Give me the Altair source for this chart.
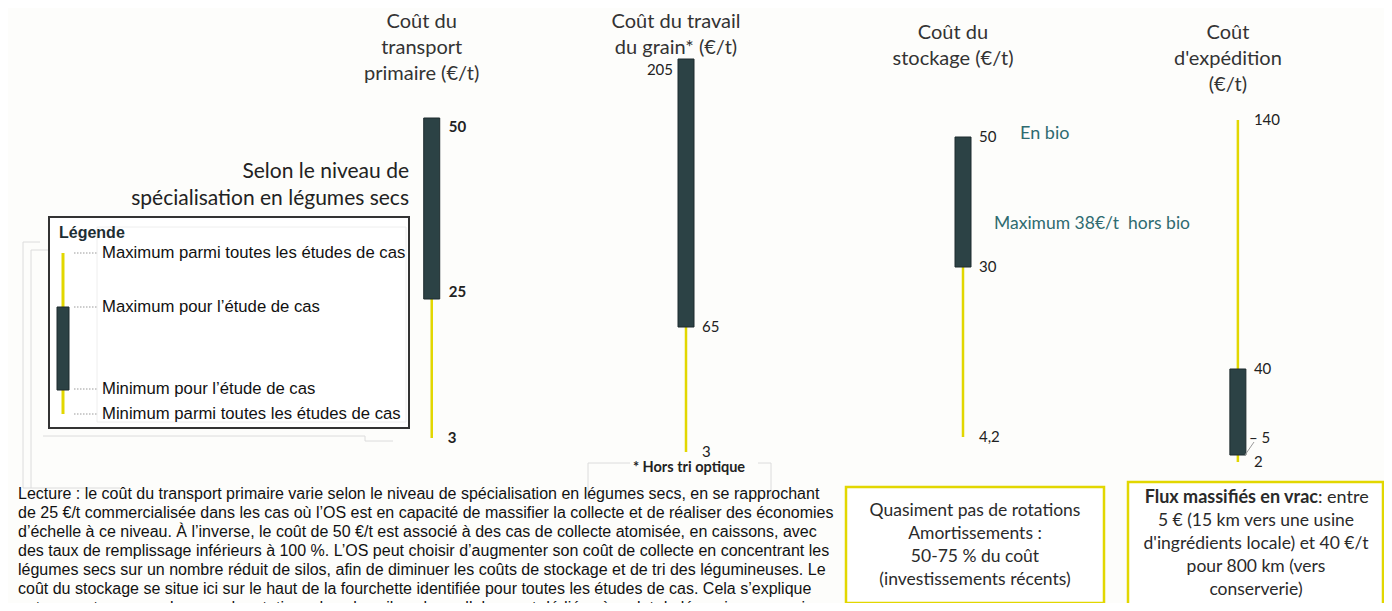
import altair as alt
import pandas as pd

# ---------------- data ----------------
categories = ["transport", "grain", "stockage", "expedition"]
min_all = [3, 3, 4.2, 2]
min_case = [25, 65, 30, 5]
max_case = [50, 205, 50, 40]
max_all = [50, 205, 50, 140]
titles = [
    "Coût du\ntransport\nprimaire (€/t)",
    "Coût du travail\ndu grain* (€/t)",
    "Coût du\nstockage (€/t)",
    "Coût\nd'expédition\n(€/t)",
]
tick_values = [[50, 25, 3], [205, 65, 3], [50, 30, 4.2], [140, 40, 5, 2]]
tick_texts = [["50", "25", "3"], ["205", "65", "3"], ["50", "30", "4,2"], ["140", "40", "– 5", "2"]]

legend_title = "Légende"
legend_labels = [
    "Maximum parmi toutes les études de cas",
    "Maximum pour l’étude de cas",
    "Minimum pour l’étude de cas",
    "Minimum parmi toutes les études de cas",
]
side_note = "Selon le niveau de\nspécialisation en légumes secs"
grain_note = "* Hors tri optique"
bio_note = "En bio"
hors_bio_note = "Maximum 38€/t\u00a0 hors bio"
box1_lines = ["Quasiment pas de rotations", "Amortissements :", "50-75 % du coût", "(investissements récents)"]
box2_bold = "Flux massifiés en vrac"
box2_lines = ["\u00a0: entre", "5 € (15 km vers une usine", "d'ingrédients locale) et 40 €/t", "pour 800 km (vers", "conserverie)"]
reading_lines = [
    "Lecture : le coût du transport primaire varie selon le niveau de spécialisation en légumes secs, en se rapprochant",
    "de 25 €/t commercialisée dans les cas où l’OS est en capacité de massifier la collecte et de réaliser des économies",
    "d’échelle à ce niveau. À l’inverse, le coût de 50 €/t est associé à des cas de collecte atomisée, en caissons, avec",
    "des taux de remplissage inférieurs à 100 %. L’OS peut choisir d’augmenter son coût de collecte en concentrant les",
    "légumes secs sur un nombre réduit de silos, afin de diminuer les coûts de stockage et de tri des légumineuses. Le",
    "coût du stockage se situe ici sur le haut de la fourchette identifiée pour toutes les études de cas. Cela s’explique",
    "notamment par une absence de rotations dans les silos ; les cellules sont dédiées à un lot de légumineuses qui",
]

# ---------------- layout / style ----------------
W, H = 1376, 595
OFF = 8


def px(v):
    return v - OFF


DARK = "#2c4245"
DARK_EDGE = "#1d2b2e"
YELLOW = "#e2d700"
TEAL = "#2f6b70"
CAL = "Lato"
ARIAL = "Liberation Sans"

X_RANGE = [px(427), px(686), px(963), px(1243)]
Y_RANGES = [
    [px(438), px(299), px(118)],
    [px(452), px(327), px(59)],
    [px(437), px(267), px(137)],
    [px(462), px(455), px(369), px(120)],
]
TITLE_TOP = [px(12), px(12), px(23), px(23)]
LABEL_STYLE = {
    (0, 0): dict(dx=17, dy=9, align="left"),
    (0, 1): dict(dx=17, dy=-7, align="left"),
    (1, 0): dict(dx=-13, dy=11, align="right"),
    (3, 2): dict(dx=11, dy=-17, align="left"),
}

one = pd.DataFrame({"k": [0]})
xscale = alt.Scale(domain=list(range(len(categories))), range=X_RANGE, nice=False, zero=False)
xenc = alt.X("col:Q", scale=xscale, axis=None)

layers = []


def rect(x1, x2, y1, y2, **kw):
    return alt.Chart(one).mark_rect(**kw).encode(
        x=alt.value(px(x1)), x2=alt.value(px(x2)), y=alt.value(px(y1)), y2=alt.value(px(y2))
    )


def line(x1, y1, x2, y2, **kw):
    return alt.Chart(one).mark_rule(**kw).encode(
        x=alt.value(px(x1)), x2=alt.value(px(x2)), y=alt.value(px(y1)), y2=alt.value(px(y2))
    )


def text(t, x, y, **kw):
    return alt.Chart(pd.DataFrame({"t": [t]})).mark_text(**kw).encode(
        text="t:N", x=alt.value(px(x)), y=alt.value(px(y))
    )


# faint scan artefacts
FAINT = "#dcdcdc"
for a in [
    (23, 242, 23, 488), (31, 250, 31, 488), (23, 242, 40, 242), (31, 250, 49, 250),
    (43, 436, 365, 436), (365, 436, 365, 441), (365, 441, 393, 441),
    (588, 463, 630, 463), (758, 463, 771, 463), (588, 463, 588, 500), (771, 463, 771, 500),
    (23, 488, 120, 488),
]:
    layers.append(line(*a, color=FAINT, strokeWidth=1))

# legend box
layers.append(rect(49, 409, 217, 428, fill="white", stroke="#333333", strokeWidth=2))
layers.append(rect(97, 406, 227, 422, fill="white", stroke="#eeeeee", strokeWidth=1))
layers.append(text(legend_title, 59, 233, font=ARIAL, fontSize=16, fontWeight="bold",
                   align="left", baseline="middle", color="#1e2e33"))
layers.append(line(63, 253, 63, 414, color=YELLOW, strokeWidth=3))
layers.append(rect(57, 69, 307, 390, fill=DARK, stroke=DARK_EDGE, strokeWidth=1))
for lab, yy in zip(legend_labels, [253, 307, 389, 414]):
    layers.append(line(74, yy, 97, yy, color="#9a9a9a", strokeWidth=1, strokeDash=[1.5, 1.5]))
    layers.append(text(lab, 102, yy, font=ARIAL, fontSize=16.7, align="left", baseline="middle", color="#111111"))

layers.append(text(side_note, 409, 172, font=CAL, fontSize=21, align="right", baseline="middle",
                   lineBreak="\n", lineHeight=27, color="#222222"))

# panels
for i, cat in enumerate(categories):
    dom = sorted(set([min_all[i], min_case[i], max_case[i], max_all[i]]))
    yscale = alt.Scale(domain=dom, range=Y_RANGES[i], nice=False, zero=False)
    row = pd.DataFrame({
        "col": [i], "cat": [cat], "lo_all": [min_all[i]], "hi_all": [max_all[i]],
        "lo_case": [min_case[i]], "hi_case": [max_case[i]], "title": [titles[i]],
    })
    base = alt.Chart(row)
    layers.append(base.mark_rule(color=YELLOW, strokeWidth=2.5).encode(
        x=xenc, y=alt.Y("lo_all:Q", scale=yscale, axis=None), y2="hi_all:Q"))
    layers.append(base.mark_bar(size=16, color=DARK, stroke=DARK_EDGE, strokeWidth=1).encode(
        x=xenc, y=alt.Y("lo_case:Q", scale=yscale, axis=None), y2="hi_case:Q"))
    layers.append(base.mark_text(font=CAL, fontSize=20, align="center", baseline="top", lineBreak="\n",
                                 lineHeight=26, dx=-10, color="#333333").encode(
        x=xenc, y=alt.value(TITLE_TOP[i]), text="title:N"))
    for j, (v, t) in enumerate(zip(tick_values[i], tick_texts[i])):
        st = dict(dx=16, dy=0, align="left")
        st.update(LABEL_STYLE.get((i, j), {}))
        lab = pd.DataFrame({"col": [i], "v": [v], "t": [t]})
        layers.append(alt.Chart(lab).mark_text(
            font=CAL, fontSize=15, baseline="middle", color="#222222",
            fontWeight="bold" if i == 0 else "normal", **st).encode(
            x=xenc, y=alt.Y("v:Q", scale=yscale, axis=None), text="t:N"))

# leader for the "5" label
layers.append(line(1245, 455, 1254, 442, color="#999999", strokeWidth=1))

# notes
layers.append(text(grain_note, 689, 468, font=CAL, fontSize=14.5, fontWeight="bold", align="center",
                   baseline="middle", color="#222222"))
layers.append(text(bio_note, 1020, 134, font=CAL, fontSize=18, align="left", baseline="middle", color=TEAL))
layers.append(text(hors_bio_note, 994, 224, font=CAL, fontSize=17.5, align="left", baseline="middle", color=TEAL))

# bottom boxes
layers.append(rect(846, 1104, 487, 603, fill="white", stroke=YELLOW, strokeWidth=2.5))
layers.append(rect(1128, 1383, 482, 609, fill="white", stroke=YELLOW, strokeWidth=2.5))
for t, yy in zip(box1_lines, [511, 534, 557, 580]):
    layers.append(text(t, 975, yy, font=CAL, fontSize=17.5, align="center", baseline="middle", color="#2a2a2a"))
layers.append(text(box2_bold, 1318, 498, font=CAL, fontSize=18, fontWeight="bold", align="right",
                   baseline="middle", color="#2a2a2a"))
layers.append(text(box2_lines[0], 1318, 498, font=CAL, fontSize=18, align="left", baseline="middle", color="#2a2a2a"))
for t, yy in zip(box2_lines[1:], [521, 544, 567, 590]):
    layers.append(text(t, 1256, yy, font=CAL, fontSize=17.5, align="center", baseline="middle", color="#2a2a2a"))

# reading paragraph
for k, t in enumerate(reading_lines):
    layers.append(text(t, 18, 494 + 19 * k, font=ARIAL, fontSize=16, align="left", baseline="middle",
                       color="#111111"))

chart = alt.layer(*layers).resolve_scale(y="independent").properties(
    width=W, height=H, padding=0, autosize=alt.AutoSizeParams(type="none"), background="#fdfdfb"
).configure_view(stroke=None)

chart.save("out.html", embed_options={"renderer": "svg", "actions": False})
